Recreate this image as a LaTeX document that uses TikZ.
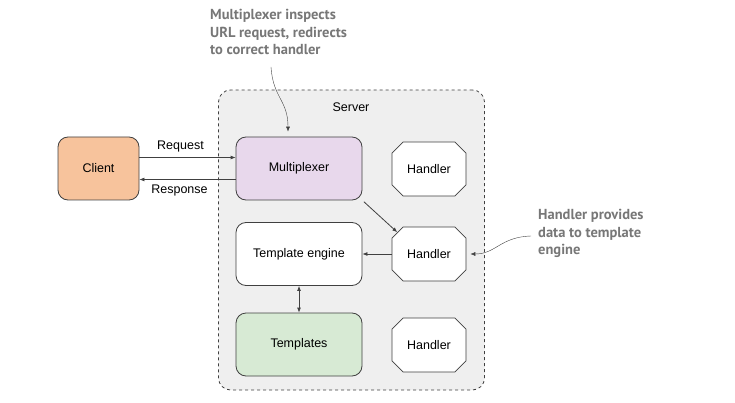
\documentclass[tikz,border=0pt]{standalone}
\usepackage{fontspec}
\setmainfont{Liberation Sans}
\newfontfamily\notefont{PT Sans}
\usetikzlibrary{arrows.meta,shapes.misc,backgrounds}
\definecolor{clientcolor}{HTML}{F7C39C}
\definecolor{muxcolor}{HTML}{E8D8EC}
\definecolor{tplcolor}{HTML}{D7EAD4}
\definecolor{servercolor}{HTML}{EFEFEF}
\definecolor{notecolor}{HTML}{777777}
\newcommand{\edgecolor}{black!75}
\newcommand{\tip}{Latex[length=5pt,width=4pt]}

\begin{document}
\begin{tikzpicture}[x=1pt,y=-1pt,
  every node/.style={font=\fontsize{12.5}{14}\selectfont},
  box/.style={draw=\edgecolor, thick, rounded corners=10pt, minimum width=126pt, minimum height=63pt},
  handlerbox/.style={draw=\edgecolor, thick, fill=white, chamfered rectangle, chamfered rectangle xsep=11pt, chamfered rectangle ysep=6.5pt, minimum width=74pt, minimum height=54pt, inner sep=0pt},
  link/.style={draw=\edgecolor, thick, -{\tip}},
  note/.style={font=\notefont\bfseries\fontsize{14.5}{17.5}\selectfont, text=notecolor, align=left, anchor=north west, inner sep=0pt},
  notelink/.style={draw=\edgecolor, -{\tip}}]
\useasboundingbox (0,0) rectangle (735,403);
% server
\node[draw=\edgecolor, thick, dashed, fill=servercolor, rounded corners=12pt, minimum width=266pt, minimum height=300pt] (server) at (351.5,240) {};
\node (serverlabel) at (351,107) {Server};
% boxes
\node[box, fill=clientcolor, minimum width=81pt] (client) at (98.5,168.5) {Client};
\node[box, fill=muxcolor] (mux) at (299,168.5) {Multiplexer};
\node[box, fill=white] (engine) at (299,254) {Template engine};
\node[box, fill=tplcolor] (templates) at (299,344.5) {Templates};
\node[handlerbox] (handler1) at (429,169) {Handler};
\node[handlerbox] (handler2) at (429,254) {Handler};
\node[handlerbox] (handler3) at (429,345) {Handler};
% notes
\node[note] (muxnote) at (210,9) {Multiplexer inspects\\URL request, redirects\\to correct handler};
\node[note] (handlernote) at (538,209) {Handler provides\\data to template\\engine};
\coordinate (muxnotetail) at (271,67);
\coordinate (handlernotetail) at (531,236);
% connectors
\draw[link] ([yshift=11pt]client.east) -- node[above=2pt, xshift=-7pt] (request) {Request} ([yshift=11pt]mux.west);
\draw[link] ([yshift=-11pt]mux.west) -- node[below=2pt, xshift=-8pt] (response) {Response} ([yshift=-11pt]client.east);
\draw[link, shorten <=2pt] (mux.south east) -- (handler2.north west);
\draw[link] (handler2.west) -- (engine.east);
\draw[draw=\edgecolor, thick, {\tip}-{\tip}] (engine.south) -- (templates.north);
\draw[notelink, shorten >=5pt] (muxnotetail) .. controls (273,98) and (288,100) .. ([xshift=-11pt]mux.north);
\draw[notelink, shorten >=4pt] (handlernotetail) .. controls (500,237) and (496,254) .. (handler2.east);
\end{tikzpicture}
\end{document}
